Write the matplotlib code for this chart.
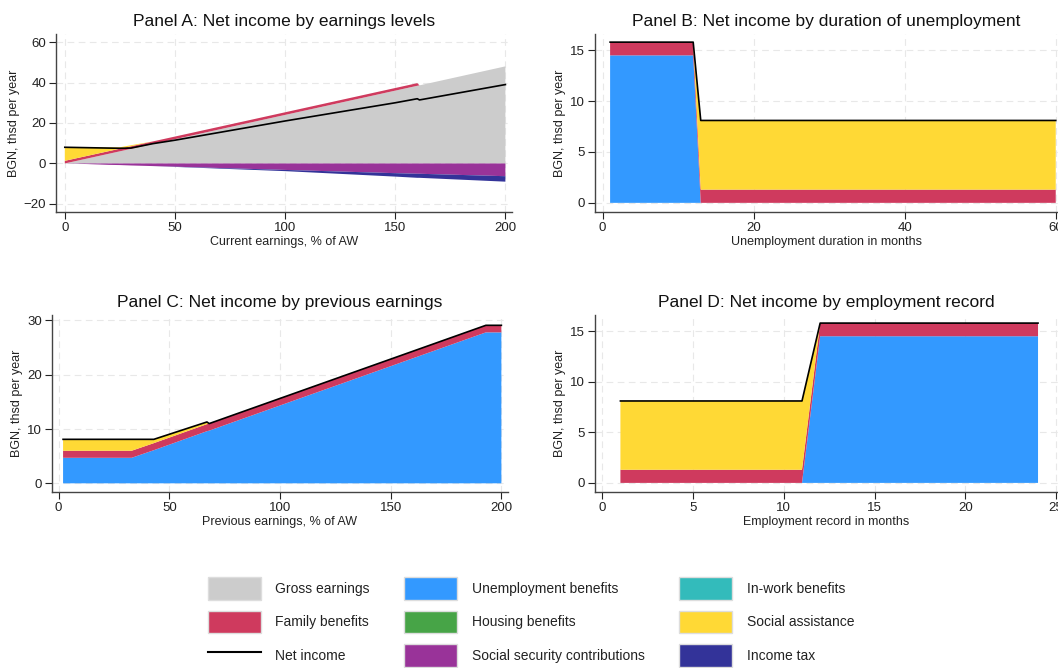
import matplotlib
matplotlib.use("Agg")
import matplotlib.pyplot as plt
from matplotlib.patches import Patch
from matplotlib.lines import Line2D

plt.rcParams['font.family'] = ['Liberation Sans', 'DejaVu Sans']

# colours
col_gross = '#cccccc'
col_fam = '#cf3a5e'
col_ub = '#3399ff'
col_inwork = '#33bbbb'
col_house = '#47a447'
col_sa = '#ffd935'
col_ssc = '#993399'
col_tax = '#333399'

# Panel A: by current earnings (% of AW)
a_x = [0, 10, 20, 25, 30, 40, 50, 100, 150, 160, 161, 200]
a_gross = [0, 2.4, 4.8, 6.0, 7.2, 9.6, 12.0, 24.0, 36.0, 38.4, 38.6, 48.0]
a_fam = [1.3, 1.3, 1.3, 1.3, 1.3, 1.3, 1.3, 1.3, 1.3, 1.3, 0, 0]
a_sa = [6.7, 4.3, 1.8, 0.7, 0.5, 0.0, 0, 0, 0, 0, 0, 0]
a_ssc = [0, -0.3, -0.7, -0.8, -1.0, -1.3, -1.6, -3.2, -4.8, -5.1, -5.1, -6.3]
a_tax = [0, 0, 0, 0, 0, 0, -0.1, -0.6, -1.7, -2.0, -2.0, -2.7]
a_net = [8.0, 7.8, 7.6, 7.5, 7.6, 9.8, 11.5, 21.0, 30.0, 32.0, 31.4, 39.0]

# Panel B: by unemployment duration (months)
b_x = [1, 12, 13, 60]
b_ub = [14.5, 14.5, 0, 0]
b_fam = [1.3, 1.3, 1.3, 1.3]
b_sa = [0, 0, 6.8, 6.8]
b_net = [15.8, 15.8, 8.1, 8.1]

# Panel C: by previous earnings (% of AW)
c_x = [2, 33, 43, 67, 68, 193, 200]
c_ub = [4.7, 4.7, 6.1, 9.6, 9.7, 27.8, 27.8]
c_fam = [1.3, 1.3, 1.3, 1.3, 1.3, 1.3, 1.3]
c_sa = [2.1, 2.1, 0.7, 0.4, 0, 0, 0]
c_net = [8.1, 8.1, 8.1, 11.3, 11.0, 29.1, 29.1]

# Panel D: by employment record (months)
d_x = [1, 11, 12, 24]
d_ub = [0, 0, 14.5, 14.5]
d_fam = [1.3, 1.3, 1.3, 1.3]
d_sa = [6.8, 6.8, 0, 0]
d_net = [8.1, 8.1, 15.8, 15.8]

fig = plt.figure(figsize=(10.58, 6.68), dpi=100)
W, H = 1058, 668


def make_ax(left, top, right, bottom):
    return fig.add_axes([left / W, 1 - bottom / H, (right - left) / W, (bottom - top) / H])


def style(ax, title, xlabel):
    ax.set_title(title, fontsize=12.5, color='#111111', pad=6)
    ax.set_xlabel(xlabel, fontsize=9, color='#222222', labelpad=2)
    ax.set_ylabel('BGN, thsd per year', fontsize=9, color='#222222', labelpad=3)
    for s in ['top', 'right']:
        ax.spines[s].set_visible(False)
    for s in ['left', 'bottom']:
        ax.spines[s].set_color('#444444')
        ax.spines[s].set_linewidth(1.0)
    ax.tick_params(labelsize=9.5, colors='#222222', length=5, width=0.8, pad=2)
    ax.grid(True, color='#e8e8e8', linestyle=(0, (6, 4)), linewidth=0.8)
    ax.set_axisbelow(True)


axA = make_ax(56, 34, 512, 212)
axA.stackplot(a_x, a_gross, a_fam, a_sa, colors=[col_gross, col_fam, col_sa], linewidth=0)
axA.stackplot(a_x, a_ssc, a_tax, colors=[col_ssc, col_tax], linewidth=0)
axA.plot(a_x, a_net, color='black', lw=1.2)
axA.set_xlim(-4, 203)
axA.set_ylim(-24, 64)
axA.set_xticks([0, 50, 100, 150, 200])
axA.set_yticks([-20, 0, 20, 40, 60])
style(axA, 'Panel A: Net income by earnings levels', 'Current earnings, % of AW')

axB = make_ax(595, 34, 1058, 212)
axB.stackplot(b_x, b_ub, b_fam, b_sa, colors=[col_ub, col_fam, col_sa], linewidth=0)
axB.plot(b_x, b_net, color='black', lw=1.2)
axB.set_xlim(-1, 60.3)
axB.set_ylim(-0.9, 16.6)
axB.set_xticks([0, 20, 40, 60])
axB.set_yticks([0, 5, 10, 15])
style(axB, 'Panel B: Net income by duration of unemployment', 'Unemployment duration in months')

axC = make_ax(52, 315, 508, 492)
axC.stackplot(c_x, c_ub, c_fam, c_sa, colors=[col_ub, col_fam, col_sa], linewidth=0)
axC.plot(c_x, c_net, color='black', lw=1.2)
axC.set_xlim(-3, 203)
axC.set_ylim(-1.6, 31)
axC.set_xticks([0, 50, 100, 150, 200])
axC.set_yticks([0, 10, 20, 30])
style(axC, 'Panel C: Net income by previous earnings', 'Previous earnings, % of AW')

axD = make_ax(595, 315, 1058, 492)
axD.stackplot(d_x, d_ub, d_fam, d_sa, colors=[col_ub, col_fam, col_sa], linewidth=0)
axD.plot(d_x, d_net, color='black', lw=1.2)
axD.set_xlim(-0.4, 25.1)
axD.set_ylim(-0.9, 16.6)
axD.set_xticks([0, 5, 10, 15, 20, 25])
axD.set_yticks([0, 5, 10, 15])
style(axD, 'Panel D: Net income by employment record', 'Employment record in months')

handles = [
    Patch(facecolor=col_gross, edgecolor='#dddddd', label='Gross earnings'),
    Patch(facecolor=col_fam, edgecolor='#dddddd', label='Family benefits'),
    Line2D([], [], color='black', lw=1.5, label='Net income'),
    Patch(facecolor=col_ub, edgecolor='#dddddd', label='Unemployment benefits'),
    Patch(facecolor=col_house, edgecolor='#dddddd', label='Housing benefits'),
    Patch(facecolor=col_ssc, edgecolor='#dddddd', label='Social security contributions'),
    Patch(facecolor=col_inwork, edgecolor='#dddddd', label='In-work benefits'),
    Patch(facecolor=col_sa, edgecolor='#dddddd', label='Social assistance'),
    Patch(facecolor=col_tax, edgecolor='#dddddd', label='Income tax'),
]
fig.legend(handles=handles, ncol=3, loc='center', bbox_to_anchor=(531 / W, 1 - 622 / H),
           frameon=False, fontsize=10, handlelength=3.8, handleheight=2.1,
           handletextpad=1.05, columnspacing=2.5, labelspacing=0.8, labelcolor='#222222')

fig.savefig('out.png', dpi=100)
